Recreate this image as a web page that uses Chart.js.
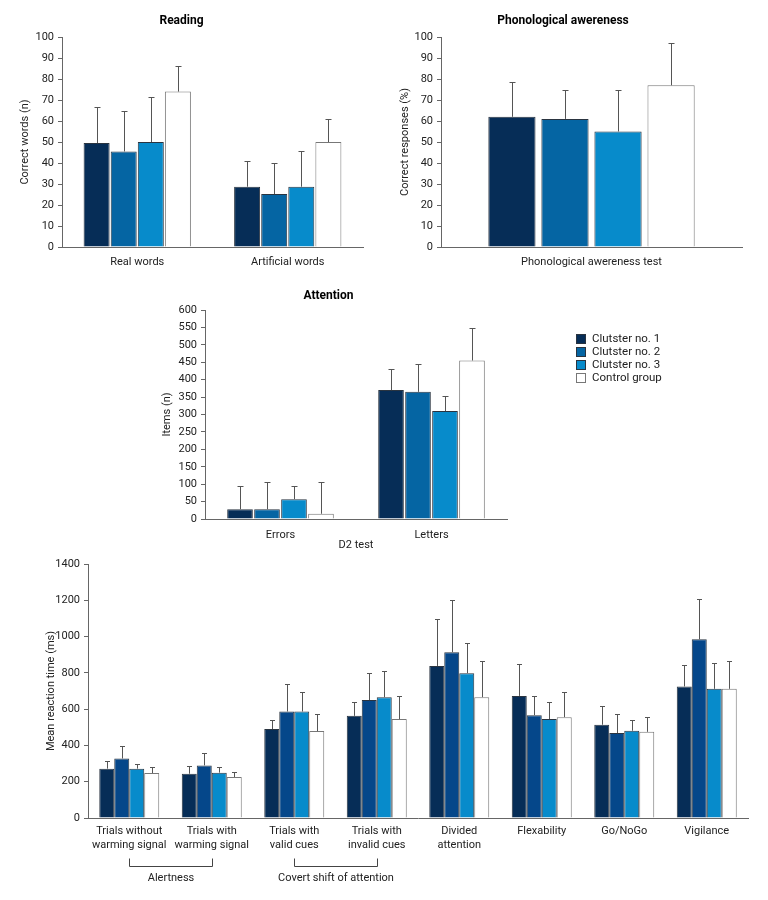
<!DOCTYPE html>
<html>
<head>
<meta charset="utf-8">
<script src="https://cdn.jsdelivr.net/npm/chart.js@4.4.1/dist/chart.umd.min.js"></script>
<style>
body { margin: 0; background: #fff; }
#wrap { position: relative; width: 768px; height: 900px; }
canvas { position: absolute; }
</style>
</head>
<body>
<div id="wrap">
<canvas id="reading" width="384" height="280" style="left:0;top:0"></canvas>
<canvas id="phono" width="384" height="280" style="left:384px;top:0"></canvas>
<canvas id="attention" width="520" height="275" style="left:150px;top:280px"></canvas>
<canvas id="reaction" width="768" height="350" style="left:0;top:550px"></canvas>
</div>
<script>
// groups (same order in every panel)
const groups = ['Clutster no. 1', 'Clutster no. 2', 'Clutster no. 3', 'Control group'];
const fills = ['#062d57', '#0565a3', '#078bcb', '#ffffff'];
const fillsBottom = ['#062d57', '#05478a', '#078bcb', '#ffffff'];
const edges = ['#2a3440', '#2a3440', '#2a3440', '#777777'];

// Reading
const readingLabels = ['Real words', 'Artificial words'];
const readingMean = [[49.5, 28.7], [45.5, 25.2], [50, 28.7], [74, 50]];
const readingSd = [[17, 12.4], [19.5, 15], [21.5, 17], [12, 11]];

// Phonological awereness
const phonoLabels = ['Phonological awereness test'];
const phonoMean = [[62], [61], [55], [77]];
const phonoSd = [[16.5], [14], [20], [20]];

// Attention (D2 test)
const attnLabels = ['Errors', 'Letters'];
const attnMean = [[28, 370], [28, 365], [57, 310], [15, 455]];
const attnSd = [[68, 62], [79, 80], [39, 44], [90, 92]];

// Mean reaction time
const rtLabels = [['Trials without', 'warming signal'], ['Trials with', 'warming signal'], ['Trials with', 'valid cues'], ['Trials with', 'invalid cues'], ['Divided', 'attention'], 'Flexability', 'Go/NoGo', 'Vigilance'];
const rtMean = [
    [272, 244, 490, 563, 838, 673, 514, 725],
    [328, 290, 587, 650, 914, 567, 468, 985],
    [272, 250, 587, 666, 798, 545, 481, 712],
    [248, 226, 479, 545, 666, 556, 475, 712]
];
const rtSd = [
    [42, 44, 51, 79, 259, 175, 103, 119],
    [70, 66, 151, 148, 286, 108, 106, 221],
    [23, 29, 105, 143, 165, 94, 58, 141],
    [35, 29, 95, 128, 198, 139, 81, 152]
];
const bracketLabels = ['Alertness', 'Covert shift of attention'];
const bracketFrom = [0, 2];
const bracketTo = [1, 3];

const FONT = "Roboto, 'Liberation Sans', sans-serif";
Chart.defaults.font.family = FONT;
Chart.defaults.font.size = 11;
Chart.defaults.color = '#222';

// upward error bar with a cap, from the top of each bar
function errorBars(cap) {
    return {
        id: 'errorBars',
        afterDatasetsDraw(chart) {
            const ctx = chart.ctx, y = chart.scales.y;
            chart.data.datasets.forEach(function(ds, i) {
                chart.getDatasetMeta(i).data.forEach(function(bar, j) {
                    const top = Math.round(y.getPixelForValue(ds.data[j] + ds.sd[j])) + 0.5;
                    const x = Math.round(bar.x) + 0.5;
                    ctx.save();
                    ctx.strokeStyle = '#555';
                    ctx.lineWidth = 1;
                    ctx.beginPath();
                    ctx.moveTo(x, bar.y);
                    ctx.lineTo(x, top);
                    ctx.moveTo(x - cap / 2, top);
                    ctx.lineTo(x + cap / 2, top);
                    ctx.stroke();
                    ctx.restore();
                });
            });
        }
    };
}

// legend to the right of the attention panel
const sideLegend = {
    id: 'sideLegend',
    afterDraw(chart) {
        const ctx = chart.ctx;
        const x = chart.chartArea.right + 69, y0 = chart.chartArea.top + 29;
        ctx.save();
        ctx.font = '11.5px ' + FONT;
        ctx.textBaseline = 'middle';
        chart.data.datasets.forEach(function(ds, i) {
            const y = y0 + i * 13;
            ctx.fillStyle = ds.backgroundColor;
            ctx.fillRect(x, y - 5, 10, 10);
            ctx.strokeStyle = ds.borderColor;
            ctx.strokeRect(x + 0.5, y - 4.5, 9, 9);
            ctx.fillStyle = '#222';
            ctx.fillText(ds.label, x + 16, y);
        });
        ctx.restore();
    }
};

// brackets under the reaction time categories
const bracketPlugin = {
    id: 'brackets',
    afterDraw(chart) {
        const ctx = chart.ctx, xs = chart.scales.x;
        const base = chart.chartArea.bottom;
        ctx.save();
        ctx.strokeStyle = '#444';
        ctx.lineWidth = 1;
        ctx.fillStyle = '#222';
        ctx.font = '11px ' + FONT;
        ctx.textAlign = 'center';
        ctx.textBaseline = 'middle';
        bracketLabels.forEach(function(label, k) {
            const x1 = Math.round(xs.getPixelForValue(bracketFrom[k])) + 0.5;
            const x2 = Math.round(xs.getPixelForValue(bracketTo[k])) + 0.5;
            const y = base + 48.5;
            ctx.beginPath();
            ctx.moveTo(x1, y - 8);
            ctx.lineTo(x1, y);
            ctx.lineTo(x2, y);
            ctx.lineTo(x2, y - 8);
            ctx.stroke();
            ctx.fillText(label, (x1 + x2) / 2, y + 12);
        });
        ctx.restore();
    }
};

function makeSets(means, sds, colors) {
    return groups.map(function(g, i) {
        return {
            label: g,
            data: means[i],
            sd: sds[i],
            backgroundColor: colors[i],
            borderColor: edges[i],
            borderWidth: 1
        };
    });
}

function barChart(id, o) {
    return new Chart(document.getElementById(id), {
        type: 'bar',
        data: { labels: o.labels, datasets: makeSets(o.means, o.sds, o.colors) },
        options: {
            responsive: false,
            animation: false,
            layout: { padding: o.pad },
            datasets: { bar: { categoryPercentage: o.cat, barPercentage: o.bar } },
            plugins: {
                legend: { display: false },
                tooltip: { enabled: false },
                title: {
                    display: !!o.title,
                    text: o.title,
                    color: '#000',
                    font: { weight: 'bold', size: 12 },
                    padding: o.titlePad
                }
            },
            scales: {
                x: {
                    grid: { display: false, drawTicks: false },
                    border: { color: '#666' },
                    ticks: { padding: o.xPad, maxRotation: 0, autoSkip: false },
                    title: o.xTitle ? { display: true, text: o.xTitle, padding: { top: 0, bottom: 3 } } : { display: false },
                    afterFit: function(s) { s.height = o.xH; }
                },
                y: {
                    min: 0,
                    max: o.max,
                    grid: { drawOnChartArea: false, tickLength: 4, color: '#666' },
                    border: { color: '#666' },
                    ticks: { stepSize: o.step, padding: 4, autoSkip: false, format: { useGrouping: false } },
                    title: { display: true, text: o.yTitle, padding: { top: o.yTitlePad, bottom: 0 } },
                    afterFit: function(s) { s.width = o.yW; }
                }
            }
        },
        plugins: [errorBars(o.cap)].concat(o.extra || [])
    });
}

barChart('reading', {
    labels: readingLabels, means: readingMean, sds: readingSd, colors: fills,
    title: 'Reading', titlePad: { top: 14, bottom: 8.6 },
    pad: { left: 0, right: 21, top: 0, bottom: 0 },
    cat: 0.72, bar: 0.96, xPad: 9, xH: 33, yW: 62, yTitlePad: 19,
    max: 100, step: 10, yTitle: 'Correct words (n)', cap: 6
});

barChart('phono', {
    labels: phonoLabels, means: phonoMean, sds: phonoSd, colors: fills,
    title: 'Phonological awereness', titlePad: { top: 14, bottom: 8.6 },
    pad: { left: 0, right: 26, top: 0, bottom: 0 },
    cat: 0.705, bar: 0.89, xPad: 9, xH: 33, yW: 57, yTitlePad: 15,
    max: 100, step: 10, yTitle: 'Correct responses (%)', cap: 6
});

barChart('attention', {
    labels: attnLabels, means: attnMean, sds: attnSd, colors: fills,
    title: 'Attention', titlePad: { top: 9, bottom: 6.6 },
    pad: { left: 0, right: 163, top: 0, bottom: 0 },
    cat: 0.715, bar: 0.95, xPad: 10, xH: 36, yW: 55, yTitlePad: 11, xTitle: 'D2 test',
    max: 600, step: 50, yTitle: 'Items (n)', cap: 6, extra: [sideLegend]
});

barChart('reaction', {
    labels: rtLabels, means: rtMean, sds: rtSd, colors: fillsBottom,
    title: '', titlePad: 0,
    pad: { left: 0, right: 20, top: 14, bottom: 0 },
    cat: 0.727, bar: 1.0, xPad: 7, xH: 82, yW: 88, yTitlePad: 45,
    max: 1400, step: 200, yTitle: 'Mean reaction time (ms)', cap: 5, extra: [bracketPlugin]
});
</script>
</body>
</html>
